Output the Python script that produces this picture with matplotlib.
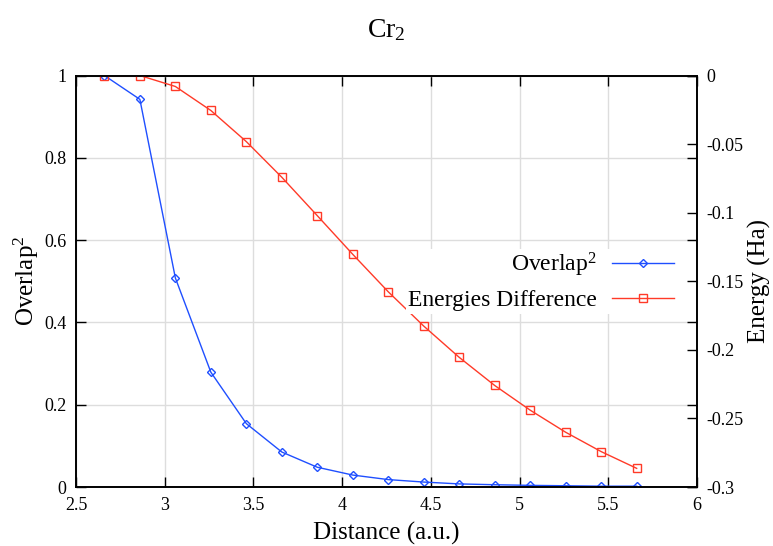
import numpy as np
import matplotlib
matplotlib.use("Agg")
import matplotlib.pyplot as plt

plt.rcParams['font.family'] = ['Liberation Serif', 'DejaVu Serif']
plt.rcParams['mathtext.fontset'] = 'custom'
plt.rcParams['mathtext.rm'] = 'Liberation Serif'
plt.rcParams['mathtext.it'] = 'Liberation Serif'

# data
distance = [2.66, 2.86, 3.06, 3.26, 3.46, 3.66, 3.86, 4.06,
            4.26, 4.46, 4.66, 4.86, 5.06, 5.26, 5.46, 5.66]
overlap2 = [1.0, 0.942, 0.508, 0.279, 0.154, 0.085, 0.048, 0.029,
            0.018, 0.012, 0.0075, 0.0055, 0.004, 0.003, 0.002, 0.002]
energy_diff = [0.0, 0.0, -0.0080, -0.0255, -0.0482, -0.0742, -0.1022, -0.1304,
               -0.1577, -0.1827, -0.2055, -0.2260, -0.2440, -0.2601, -0.2742, -0.2864]

x_ticks = [2.5, 3, 3.5, 4, 4.5, 5, 5.5, 6]
y1_ticks = [0, 0.2, 0.4, 0.6, 0.8, 1]
y2_ticks = [0, -0.05, -0.1, -0.15, -0.2, -0.25, -0.3]

blue = '#1f4fff'
red = '#ff3a28'

fig = plt.figure(figsize=(7.73, 5.46), dpi=100)
ax = fig.add_axes([76 / 773, 1 - 487 / 546, (697 - 76) / 773, (487 - 75.5) / 546])
ax2 = ax.twinx()

l1, = ax.plot(distance, overlap2, color=blue, lw=1, marker='D', ms=4.5,
              mfc='none', mec=blue, mew=1, label='Overlap$^2$')
l2, = ax2.plot(distance, energy_diff, color=red, lw=1, marker='s', ms=6,
               mfc='none', mec=red, mew=1, label='Energies Difference')

ax.set_xlim(2.5, 6)
ax.set_ylim(0, 1)
ax2.set_ylim(-0.3, 0)
ax.set_xticks(x_ticks)
ax.set_xticklabels([('%g' % t) for t in x_ticks])
ax.set_yticks(y1_ticks)
ax.set_yticklabels([('%g' % t) for t in y1_ticks])
ax2.set_yticks(y2_ticks)
ax2.set_yticklabels([('%g' % t).replace('\u2212', '-') for t in y2_ticks])

ax.grid(True, color='#dddddd', lw=1)
ax.set_axisbelow(True)
ax.tick_params(direction='in', length=7, width=1, labelsize=13, top=True,
               right=True, labelright=False, pad=7)
ax2.tick_params(direction='in', length=7, width=1, labelsize=13, pad=7)
for a in (ax, ax2):
    for s in a.spines.values():
        s.set_linewidth(1.2)

ax.set_xlabel('Distance (a.u.)', fontsize=18, labelpad=6)
ax.set_ylabel('Overlap$^2$', fontsize=18, labelpad=2)
ax2.set_ylabel('Energy (Ha)', fontsize=18, labelpad=3)
fig.text(0.5, 1 - 30 / 546, 'Cr$_2$', fontsize=20, ha='center', va='center')

leg = ax2.legend(handles=[l1, l2], loc='upper right', bbox_to_anchor=(0.985, 0.608),
                 frameon=True, fancybox=False, framealpha=1, edgecolor='none',
                 fontsize=17, markerfirst=False, handlelength=2.6,
                 borderpad=0.1, labelspacing=0.45, handletextpad=0.65)
for t in leg.get_texts():
    t.set_ha('right')

fig.savefig('out.png', dpi=100)
